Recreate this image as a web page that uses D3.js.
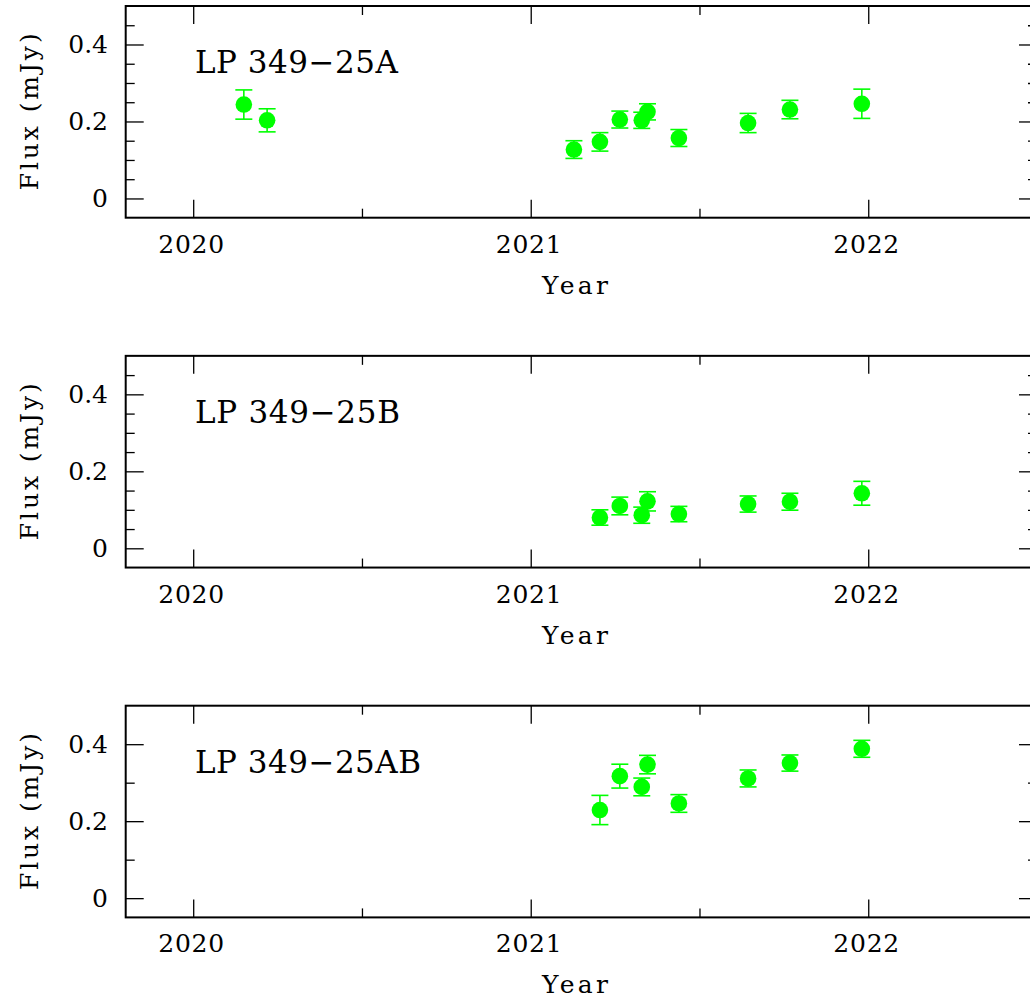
<!DOCTYPE html>
<html>
<head>
<meta charset="utf-8">
<script src="https://cdn.jsdelivr.net/npm/d3@7"></script>
<style>
  html, body { margin: 0; padding: 0; background: #fff; }
  svg { display: block; }
  text { font-family: "DejaVu Serif", "Liberation Serif", serif; fill: #000; }
</style>
</head>
<body>
<script>
// Radio flux monitoring of the LP 349-25 system (epoch in decimal years, flux in mJy)
const panelNames = ["LP 349\u221225A", "LP 349\u221225B", "LP 349\u221225AB"];

const epochsA = [2020.150, 2020.219, 2021.128, 2021.205, 2021.264, 2021.329, 2021.346, 2021.439, 2021.644, 2021.768, 2021.981];
const fluxA   = [0.244, 0.203, 0.127, 0.147, 0.205, 0.203, 0.225, 0.157, 0.196, 0.231, 0.246];
const errA    = [0.038, 0.030, 0.023, 0.024, 0.022, 0.021, 0.021, 0.022, 0.025, 0.024, 0.038];

const epochsB = [2021.205, 2021.264, 2021.329, 2021.346, 2021.439, 2021.644, 2021.768, 2021.981];
const fluxB   = [0.080, 0.110, 0.086, 0.122, 0.089, 0.115, 0.121, 0.143];
const errB    = [0.020, 0.023, 0.021, 0.025, 0.020, 0.021, 0.022, 0.031];

const epochsAB = [2021.205, 2021.264, 2021.329, 2021.346, 2021.439, 2021.644, 2021.768, 2021.981];
const fluxAB   = [0.229, 0.317, 0.289, 0.347, 0.246, 0.311, 0.351, 0.388];
const errAB    = [0.038, 0.031, 0.023, 0.024, 0.023, 0.022, 0.021, 0.022];

const yearTicks = [2020, 2021, 2022];
const yearMinorTicks = [2020.5, 2021.5, 2022.5];
const fluxTicks = [0, 0.2, 0.4];
const fluxMinorStep = [0.05, 0.05, 0.1];

const series = [
  { t: epochsA, f: fluxA, e: errA },
  { t: epochsB, f: fluxB, e: errB },
  { t: epochsAB, f: fluxAB, e: errAB }
];

const W = 1030, H = 1001;
const svg = d3.select("body").append("svg").attr("width", W).attr("height", H);

const left = 125.7, right = 1037;
const panelTops = [6, 355.85, 705.7];
const panelH = 211.7;
const green = "#00ff00";
const titleWidths = [203, 205, 226];

const x = d3.scaleLinear().domain([2019.8, 2022.5]).range([left, right]);

series.forEach((s, i) => {
  const top = panelTops[i], bottom = top + panelH;
  const y = d3.scaleLinear().domain([-0.05, 0.5]).range([bottom, top]);
  const g = svg.append("g");

  // minor flux ticks between the labelled values
  const minor = d3.range(0, 0.5 + 1e-9, fluxMinorStep[i])
    .filter(v => !fluxTicks.some(t => Math.abs(t - v) < 1e-6) && v < 0.499);

  const noDomain = a => a.select(".domain").remove();
  // left and right axes: major and minor ticks drawn inward
  g.append("g").attr("transform", `translate(${left},0)`)
    .call(d3.axisRight(y).tickValues(fluxTicks).tickSize(18).tickFormat("")).call(noDomain);
  g.append("g").attr("transform", `translate(${left},0)`)
    .call(d3.axisRight(y).tickValues(minor).tickSize(9).tickFormat("")).call(noDomain);
  g.append("g").attr("transform", `translate(${right},0)`)
    .call(d3.axisLeft(y).tickValues(fluxTicks).tickSize(18).tickFormat("")).call(noDomain);
  g.append("g").attr("transform", `translate(${right},0)`)
    .call(d3.axisLeft(y).tickValues(minor).tickSize(9).tickFormat("")).call(noDomain);
  // bottom / top year ticks
  g.append("g").attr("transform", `translate(0,${bottom})`)
    .call(d3.axisTop(x).tickValues(yearTicks).tickSize(18).tickFormat("")).call(noDomain);
  g.append("g").attr("transform", `translate(0,${bottom})`)
    .call(d3.axisTop(x).tickValues(yearMinorTicks).tickSize(9).tickFormat("")).call(noDomain);
  g.append("g").attr("transform", `translate(0,${top})`)
    .call(d3.axisBottom(x).tickValues(yearTicks).tickSize(18).tickFormat("")).call(noDomain);
  g.append("g").attr("transform", `translate(0,${top})`)
    .call(d3.axisBottom(x).tickValues(yearMinorTicks).tickSize(9).tickFormat("")).call(noDomain);

  g.selectAll(".tick line").attr("stroke", "#000").attr("stroke-width", 1.3);

  // frame
  g.append("rect")
    .attr("x", left).attr("y", top)
    .attr("width", right - left).attr("height", panelH)
    .attr("fill", "none").attr("stroke", "#000").attr("stroke-width", 2);

  // tick labels
  g.selectAll(".ylab").data(fluxTicks).join("text")
    .attr("x", 108).attr("y", d => y(d) + 9)
    .attr("text-anchor", "end").attr("font-size", 25)
    .text(d => d === 0 ? "0" : d3.format(".1f")(d));
  g.selectAll(".xlab").data(yearTicks).join("text")
    .attr("x", d => x(d) - 2).attr("y", bottom + 35)
    .attr("text-anchor", "middle").attr("font-size", 25)
    .attr("textLength", 66).attr("lengthAdjust", "spacing")
    .text(d => d);

  // axis titles
  g.append("text")
    .attr("x", 575).attr("y", bottom + 76)
    .attr("text-anchor", "middle").attr("font-size", 25)
    .attr("textLength", 66).attr("lengthAdjust", "spacing")
    .text("Year");
  g.append("text")
    .attr("transform", `translate(38,${(top + bottom) / 2}) rotate(-90)`)
    .attr("text-anchor", "middle").attr("font-size", 25)
    .attr("textLength", 157).attr("lengthAdjust", "spacing")
    .text("Flux (mJy)");

  // panel name
  g.append("text")
    .attr("x", 195).attr("y", top + 67)
    .attr("font-size", 31)
    .attr("textLength", titleWidths[i]).attr("lengthAdjust", "spacing")
    .text(panelNames[i]);

  // error bars with caps
  const pts = s.t.map((t, k) => ({ t, f: s.f[k], e: s.e[k] }));
  const eb = g.append("g").attr("stroke", green).attr("stroke-width", 1.6);
  eb.selectAll(".v").data(pts).join("line")
    .attr("x1", d => x(d.t)).attr("x2", d => x(d.t))
    .attr("y1", d => y(d.f - d.e)).attr("y2", d => y(d.f + d.e));
  eb.selectAll(".c1").data(pts).join("line")
    .attr("x1", d => x(d.t) - 8.5).attr("x2", d => x(d.t) + 8.5)
    .attr("y1", d => y(d.f - d.e)).attr("y2", d => y(d.f - d.e));
  eb.selectAll(".c2").data(pts).join("line")
    .attr("x1", d => x(d.t) - 8.5).attr("x2", d => x(d.t) + 8.5)
    .attr("y1", d => y(d.f + d.e)).attr("y2", d => y(d.f + d.e));

  // markers
  g.selectAll("circle").data(pts).join("circle")
    .attr("cx", d => x(d.t)).attr("cy", d => y(d.f))
    .attr("r", 8.3).attr("fill", green);
});
</script>
</body>
</html>
